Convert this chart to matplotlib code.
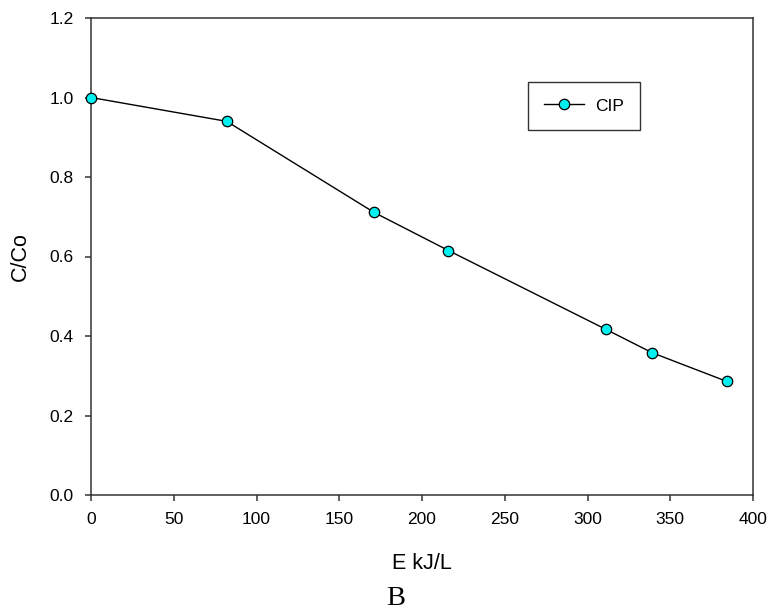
import matplotlib
matplotlib.use("Agg")
import matplotlib.pyplot as plt

energy = [0, 82, 171, 216, 311, 339, 384]
c_ratio = [1.0, 0.94, 0.711, 0.615, 0.417, 0.358, 0.286]
series_name = "CIP"
x_ticks = [0, 50, 100, 150, 200, 250, 300, 350, 400]
y_ticks = [0.0, 0.2, 0.4, 0.6, 0.8, 1.0, 1.2]

plt.rcParams["font.family"] = ["Liberation Sans", "DejaVu Sans"]

fig = plt.figure(figsize=(7.72, 6.14), dpi=100)
ax = fig.add_axes([91 / 772, 1 - 495 / 614, 662 / 772, 477 / 614])

ax.plot(energy, c_ratio, color="black", linewidth=1.0, marker="o",
        markersize=7.5, markerfacecolor="#00F0F0", markeredgecolor="black",
        markeredgewidth=0.9, label=series_name, clip_on=False, zorder=3)

ax.set_xlim(0, 400)
ax.set_ylim(0, 1.2)
ax.set_xticks(x_ticks)
ax.set_yticks(y_ticks)
ax.set_xticklabels([str(v) for v in x_ticks])
ax.set_yticklabels([f"{v:.1f}" for v in y_ticks])
ax.tick_params(direction="out", length=4.5, width=1.1, color="#333333",
               labelsize=12.5, pad=8, top=False, right=False)
for s in ax.spines.values():
    s.set_color("#333333")
    s.set_linewidth(1.1)

# axis titles placed in figure coordinates
fig.text(422 / 772, 1 - 563.5 / 614, "E kJ/L", fontsize=15.5,
         ha="center", va="center")
fig.text(20 / 772, 1 - 257 / 614, "C/Co", fontsize=15.5, rotation=90,
         ha="center", va="center")

leg = ax.legend(loc="upper left", bbox_to_anchor=(0.66, 0.866), fontsize=12.5,
                frameon=True, fancybox=False, edgecolor="black",
                handlelength=2.3, borderpad=0.95, handletextpad=0.6,
                borderaxespad=0)
leg.get_frame().set_linewidth(1.0)

fig.text(396 / 772, 1 - 598.5 / 614, "B", family=["Liberation Serif", "DejaVu Serif"],
         fontsize=20.5, ha="center", va="center")

fig.savefig("out.png", dpi=100)
